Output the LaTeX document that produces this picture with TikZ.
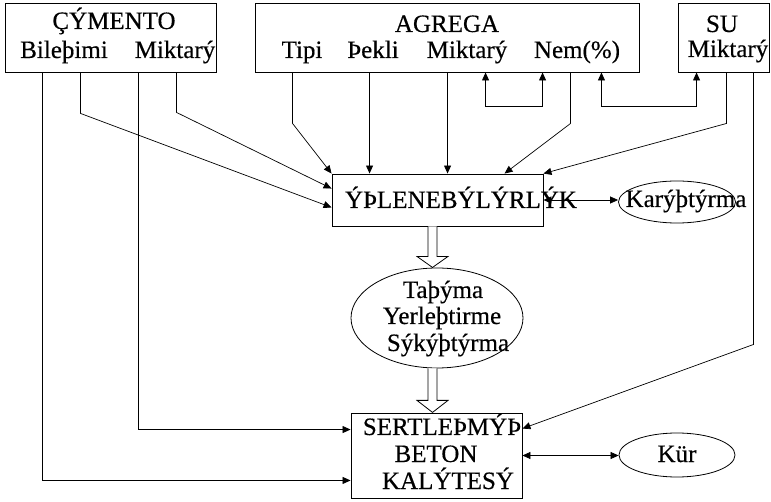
\documentclass[tikz,border=0pt]{standalone}
\usepackage{fontspec}
\setmainfont{Liberation Serif}[FakeBold=0.4]
\usetikzlibrary{shapes.geometric,arrows.meta,calc}
\begin{document}
\begin{tikzpicture}[x=1pt,y=-1pt,
  boxnode/.style={draw,line width=0.9pt,rectangle,inner sep=0pt},
  ellnode/.style={draw,line width=0.8pt,ellipse,inner sep=0pt},
  txt/.style={inner sep=0pt,anchor=base,font=\fontsize{25}{29}\selectfont},
  conn/.style={line width=0.7pt},
  arr/.style={conn,-{Triangle[length=8pt,width=7pt]}},
  arrtwo/.style={conn,{Triangle[length=8pt,width=7pt]}-{Triangle[length=8pt,width=7pt]}},
  hollow/.style={line width=0.8pt,fill=white}]
\useasboundingbox (0,0) rectangle (771,502);
% boxes
\node[boxnode,minimum width=211pt,minimum height=69pt] (cim) at (110.5,37.5) {};
\node[boxnode,minimum width=384pt,minimum height=69pt] (agr) at (447,37.5) {};
\node[boxnode,minimum width=91pt,minimum height=69pt] (su) at (723.5,37.5) {};
\node[boxnode,minimum width=211pt,minimum height=52pt] (ipl) at (437.5,200) {};
\node[ellnode,minimum width=117pt,minimum height=42pt] (kar) at (677,202) {};
\node[ellnode,minimum width=172pt,minimum height=100pt] (tas) at (437,318) {};
\node[boxnode,minimum width=171pt,minimum height=85pt] (sert) at (436.5,455.5) {};
\node[ellnode,minimum width=116pt,minimum height=44pt] (kur) at (677,455) {};
% texts
\node[txt] (tcim) at (114,29) {ÇÝMENTO};
\node[txt] (tbil) at (64,58) {Bileþimi};
\node[txt] (tmik1) at (175,58) {Miktarý};
\node[txt] (tagr) at (447,32) {AGREGA};
\node[txt] (ttip) at (302,58) {Tipi};
\node[txt] (tsek) at (373,58) {Þekli};
\node[txt] (tmik2) at (467,58) {Miktarý};
\node[txt] (tnem) at (577,58) {Nem(\%)};
\node[txt] (tsu) at (722,32) {SU};
\node[txt] (tmik3) at (728,57) {Miktarý};
\node[txt] (tipl) at (461,208) {ÝÞLENEBÝLÝRLÝK};
\node[txt] (tkar) at (686,207) {Karýþtýrma};
\node[txt] (ttas1) at (443,298) {Taþýma};
\node[txt] (ttas2) at (442,324) {Yerleþtirme};
\node[txt] (ttas3) at (448,351) {Sýkýþtýrma};
\node[txt] (tser1) at (442,435) {SERTLEÞMÝÞ};
\node[txt] (tser2) at (436,462) {BETON};
\node[txt] (tser3) at (448,489) {KALÝTESÝ};
\node[txt] (tkur) at (677,462) {Kür};
% connectors from CIMENTO
\draw[arr] ($(cim.south west)+(38,0)$) |- ($(sert.south west)+(0,-18)$);
\draw[arr] ($(cim.south west)+(76,0)$) -- ++(0,41) -- ($(ipl.south west)+(0,-19)$);
\draw[arr] ($(cim.south west)+(134,0)$) |- ($(sert.north west)+(0,17)$);
\draw[arr] ($(cim.south west)+(172,0)$) -- ++(0,40) -- ($(ipl.north west)+(0,15)$);
% from AGREGA
\draw[arr] ($(agr.south west)+(38,0)$) -- ++(0,51) -- (ipl.north west);
\draw[arr] ($(agr.south west)+(115,0)$) coordinate (a6) -- (a6 |- ipl.north);
\draw[arr] ($(agr.south west)+(193,0)$) coordinate (a7) -- (a7 |- ipl.north);
\draw[arrtwo] ($(agr.south west)+(231,0)$) -- ++(0,34) -| ($(agr.south west)+(288,0)$);
\draw[arr] ($(agr.south west)+(316,0)$) -- ++(0,51) -- ($(ipl.north west)+(173,0)$);
\draw[arrtwo] ($(agr.south east)+(-38,0)$) -- ++(0,34) -| ($(su.south west)+(19,0)$);
% from SU
\draw[arr] ($(su.south west)+(49,0)$) -- ++(0,51) -- (ipl.north east);
\draw[arr] ($(su.south west)+(76,0)$) -- ++(0,272) -- ($(sert.north east)+(0,16)$);
% side links
\draw[arrtwo] (ipl.east) -- (ipl.east -| kar.west);
\draw[arrtwo] (sert.east) -- (sert.east -| kur.west);
% hollow arrows
\coordinate (h1) at ($(ipl.south)+(-5,0)$);
\draw[hollow] ($(h1)+(-4.5,0)$) -- ++(0,30) -- ++(-11,0) -- ++(15.5,11) -- ++(15.5,-11) -- ++(-11,0) -- ++(0,-30);
\coordinate (h2) at ($(tas.south)+(-4.5,0)$);
\draw[hollow] ($(h2)+(-4.5,0)$) -- ++(0,32) -- ++(-11,0) -- ++(15.5,12) -- ++(15.5,-12) -- ++(-11,0) -- ++(0,-32);
\end{tikzpicture}
\end{document}
